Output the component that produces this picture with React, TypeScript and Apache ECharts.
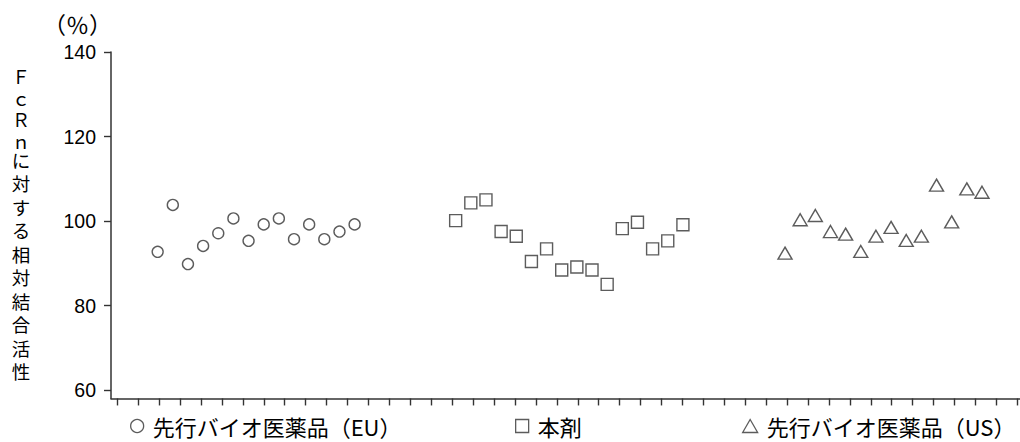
import React, { useEffect, useRef } from "react";
import * as echarts from "echarts";

// ---- data ----
const seriesNames = ["先行バイオ医薬品（EU）", "本剤", "先行バイオ医薬品（US）"];
const euValues = [92.7, 103.8, 89.8, 94.1, 97.1, 100.6, 95.3, 99.2, 100.6, 95.7, 99.2, 95.7, 97.5, 99.2];
const productValues = [100.1, 104.3, 105.0, 97.5, 96.4, 90.4, 93.4, 88.4, 89.1, 88.4, 85.0, 98.2, 99.7, 93.4, 95.3, 99.1];
const usValues = [92.4, 100.3, 101.3, 97.5, 96.9, 92.8, 96.4, 98.5, 95.4, 96.4, 108.5, 99.8, 107.6, 106.8];
const yTickValues = [60, 80, 100, 120, 140];
const yAxisTitleLatin = "Ｆ\nｃ\nＲ\nｎ";
const yAxisTitleJa = "に\n対\nす\nる\n相\n対\n結\n合\n活\n性";
const yUnit = "（％）";

// layout: horizontal start of each group on the hidden data axis
const groupStarts = [3.08, 22.75, 44.49];

const JA = "'Noto Sans CJK JP', 'Noto Sans', sans-serif";
const NUM = "'Liberation Sans', Arial, sans-serif";
const INK = "#333";

export default function App() {
  const ref = useRef<HTMLDivElement>(null);
  useEffect(() => {
    document.body.style.margin = "0";
    if (!ref.current) return;
    const chart = echarts.init(ref.current, undefined, { renderer: "svg" });
    const toPoints = (vals: number[], start: number) => vals.map((v, i) => [start + i, v]);
    const itemStyle = { color: "#fff", borderColor: INK, borderWidth: 1.4 };
    const gridBox = { top: 52, bottom: 43.55 };
    const legendBase = {
      top: 415,
      orient: "horizontal",
      padding: 0,
      itemHeight: 13,
      itemWidth: 13,
      selectedMode: false,
      itemStyle: { color: "#fff", borderColor: INK, borderWidth: 1.3 },
      textStyle: { fontSize: 22, fontFamily: JA, color: "#000", padding: [0, 0, 0, 4] },
    };
    chart.setOption({
      animation: false,
      grid: [
        { left: 111, right: 0, ...gridBox },
        { left: 117.3, right: 2.7, ...gridBox },
      ],
      xAxis: [
        {
          gridIndex: 0,
          type: "value",
          min: 0,
          max: 60,
          axisLine: { show: true, lineStyle: { color: INK, width: 1.5 } },
          axisTick: { show: false },
          axisLabel: { show: false },
          splitLine: { show: false },
        },
        {
          gridIndex: 1,
          type: "value",
          min: 0,
          max: 43,
          interval: 1,
          axisLine: { show: false },
          axisTick: { show: true, length: 7, lineStyle: { color: INK, width: 1.4 } },
          axisLabel: { show: false },
          splitLine: { show: false },
        },
      ],
      yAxis: [
        {
          gridIndex: 0,
          type: "value",
          min: 58,
          max: 140,
          axisLine: { show: true, lineStyle: { color: INK, width: 1.5 } },
          axisTick: { show: true, length: 7, customValues: yTickValues, lineStyle: { color: INK, width: 1.4 } },
          axisLabel: { show: true, customValues: yTickValues, margin: 15, fontSize: 19.5, fontFamily: NUM, color: "#000" },
          splitLine: { show: false },
        },
        { gridIndex: 1, type: "value", min: 0, max: 1, show: false },
      ],
      legend: [
        { ...legendBase, left: 130, data: [seriesNames[0]] },
        { ...legendBase, left: 515, data: [seriesNames[1]] },
        { ...legendBase, left: 742, itemWidth: 15, data: [seriesNames[2]] },
      ],
      series: [
        {
          name: seriesNames[0],
          type: "scatter",
          xAxisIndex: 0,
          yAxisIndex: 0,
          symbol: "circle",
          symbolSize: 11,
          itemStyle,
          data: toPoints(euValues, groupStarts[0]),
        },
        {
          name: seriesNames[1],
          type: "scatter",
          xAxisIndex: 0,
          yAxisIndex: 0,
          symbol: "rect",
          symbolSize: 12,
          itemStyle,
          data: toPoints(productValues, groupStarts[1]),
        },
        {
          name: seriesNames[2],
          type: "scatter",
          xAxisIndex: 0,
          yAxisIndex: 0,
          symbol: "triangle",
          symbolSize: [14, 12],
          itemStyle,
          data: toPoints(usValues, groupStarts[2]),
        },
      ],
      graphic: [
        {
          type: "text",
          x: 77.5,
          y: 24,
          style: { text: yUnit, fontSize: 23, fontFamily: JA, fill: "#000", align: "center", verticalAlign: "middle" },
        },
        {
          type: "text",
          x: 21,
          y: 65.2,
          style: { text: yAxisTitleLatin, fontSize: 18, lineHeight: 21.6, fontFamily: JA, fill: "#000", align: "center", verticalAlign: "top" },
        },
        {
          type: "text",
          x: 21,
          y: 147.8,
          style: { text: yAxisTitleJa, fontSize: 18.5, lineHeight: 23.5, fontFamily: JA, fill: "#000", align: "center", verticalAlign: "top" },
        },
      ],
    });
    return () => chart.dispose();
  }, []);
  return <div ref={ref} style={{ width: 1020, height: 442 }} />;
}
